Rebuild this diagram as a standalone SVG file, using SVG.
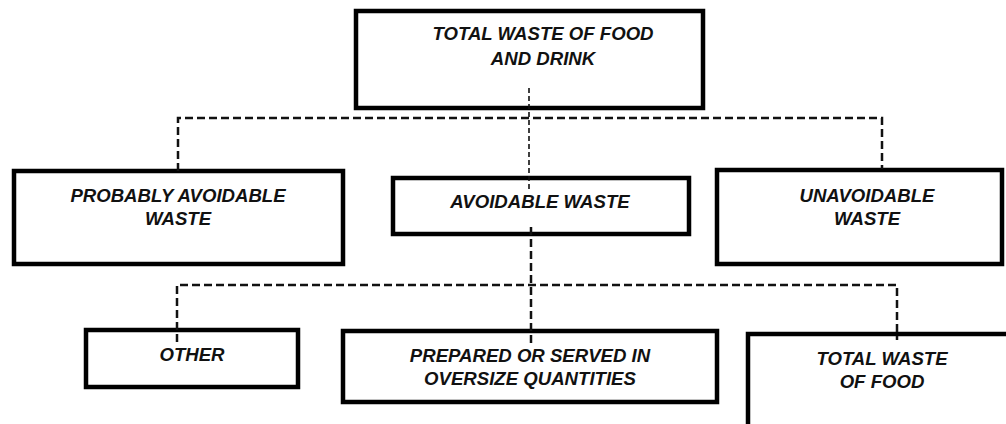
<svg xmlns="http://www.w3.org/2000/svg" width="1006" height="424" viewBox="0 0 1006 424">
<style>
.box{fill:#fff;stroke:#000;stroke-width:4.5}
.lbl{font-family:"Liberation Sans",Arial,sans-serif;font-weight:bold;font-style:italic;font-size:18.6px;fill:#111;text-anchor:middle}
.dash{fill:none;stroke:#111;stroke-width:2.5;stroke-dasharray:8 4}
.thin{fill:none;stroke:#111;stroke-width:1.6;stroke-dasharray:5 3}
</style>
<rect width="1006" height="424" fill="#fff"/>
<g id="n-total"><rect class="box" x="356" y="11" width="347" height="97"/>
<text class="lbl" x="543" y="40">TOTAL WASTE OF FOOD</text><text class="lbl" x="543" y="65">AND DRINK</text></g>
<g id="n-probably"><rect class="box" x="14" y="171" width="329" height="93"/>
<text class="lbl" x="178" y="202">PROBABLY AVOIDABLE</text><text class="lbl" x="178" y="225">WASTE</text></g>
<g id="n-avoidable"><rect class="box" x="393" y="178" width="296" height="56"/>
<text class="lbl" x="540" y="208">AVOIDABLE WASTE</text></g>
<g id="n-unavoidable"><rect class="box" x="717" y="170" width="285" height="94"/>
<text class="lbl" x="867" y="202">UNAVOIDABLE</text><text class="lbl" x="867" y="225">WASTE</text></g>
<g id="n-other"><rect class="box" x="86" y="330" width="212" height="57"/>
<text class="lbl" x="192" y="361">OTHER</text></g>
<g id="n-prepared"><rect class="box" x="343" y="331" width="374" height="71"/>
<text class="lbl" x="530" y="362">PREPARED OR SERVED IN</text><text class="lbl" x="530" y="385">OVERSIZE QUANTITIES</text></g>
<g id="n-food"><rect class="box" x="748" y="334" width="262" height="95"/>
<text class="lbl" x="882" y="365">TOTAL WASTE</text><text class="lbl" x="882" y="388">OF FOOD</text></g>
<g id="connectors">
<path class="dash" d="M178 171 V118 H882 V169"/>
<path class="thin" d="M529 88 V192"/>
<path class="dash" d="M531 227 V343"/>
<path class="dash" d="M177 342 V285 H897 V340"/>
</g>
</svg>
